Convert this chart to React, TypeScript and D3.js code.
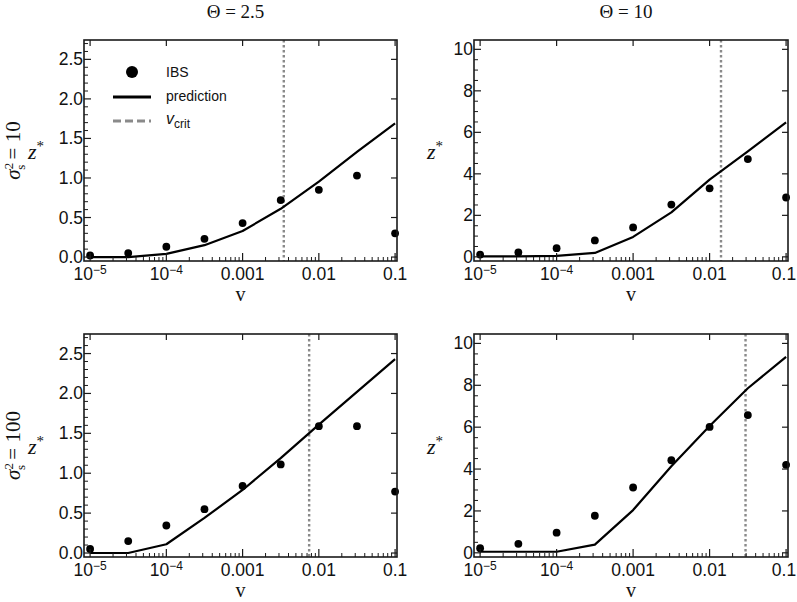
import React from 'react';
import * as d3 from 'd3';

// ---------- data ----------
const vGrid = [1e-5, 3.162e-5, 1e-4, 3.162e-4, 1e-3, 3.162e-3, 1e-2, 3.162e-2, 1e-1];

const ibsTheta25Sig10 = [0.02, 0.05, 0.13, 0.23, 0.43, 0.72, 0.85, 1.03, 0.3];
const predTheta25Sig10 = [0.0, 0.0, 0.04, 0.15, 0.33, 0.61, 0.955, 1.33, 1.69];
const ibsTheta10Sig10 = [0.11, 0.21, 0.42, 0.79, 1.42, 2.52, 3.3, 4.71, 2.86];
const predTheta10Sig10 = [0.02, 0.02, 0.05, 0.19, 0.96, 2.14, 3.72, 5.08, 6.48];
const ibsTheta25Sig100 = [0.05, 0.15, 0.345, 0.55, 0.84, 1.11, 1.59, 1.59, 0.77];
const predTheta25Sig100 = [0.0, 0.0, 0.11, 0.44, 0.79, 1.19, 1.61, 2.02, 2.43];
const ibsTheta10Sig100 = [0.22, 0.43, 0.96, 1.77, 3.12, 4.42, 6.01, 6.58, 4.2];
const predTheta10Sig100 = [0.05, 0.05, 0.05, 0.39, 2.04, 4.13, 6.06, 7.86, 9.36];

const vCritValues = [0.00347, 0.0141, 0.00746, 0.0295];

const columnTitles = ['2.5', '10'];
const rowSigma = ['10', '100'];

const xTickValues = [1e-5, 1e-4, 1e-3, 1e-2, 1e-1];
const xTickBase = ['10', '10', '0.001', '0.01', '0.1'];
const xTickExp = ['\u22125', '\u22124', '', '', ''];

const yTicksLeft = [0, 0.5, 1, 1.5, 2, 2.5];
const yTickLabelsLeft = ['0.0', '0.5', '1.0', '1.5', '2.0', '2.5'];
const yMinorLeft = 0.1;
const yTicksRight = [0, 2, 4, 6, 8, 10];
const yTickLabelsRight = ['0', '2', '4', '6', '8', '10'];
const yMinorRight = 0.5;

const legendLabels = ['IBS', 'prediction', 'crit'];

// ---------- layout ----------
const W = 797;
const H = 602;
const colX = [{ x0: 84, w: 313 }, { x0: 474, w: 314 }];
const rowY = [{ y0: 40, h: 221 }, { y0: 334, h: 223 }];
const SANS = "'Liberation Sans', Arial, Helvetica, sans-serif";
const SERIF = "'Liberation Serif', 'Times New Roman', serif";

type PanelDef = {
  col: number;
  row: number;
  ibs: number[];
  pred: number[];
  vcrit: number;
};

const panels: PanelDef[] = [
  { col: 0, row: 0, ibs: ibsTheta25Sig10, pred: predTheta25Sig10, vcrit: vCritValues[0] },
  { col: 1, row: 0, ibs: ibsTheta10Sig10, pred: predTheta10Sig10, vcrit: vCritValues[1] },
  { col: 0, row: 1, ibs: ibsTheta25Sig100, pred: predTheta25Sig100, vcrit: vCritValues[2] },
  { col: 1, row: 1, ibs: ibsTheta10Sig100, pred: predTheta10Sig100, vcrit: vCritValues[3] },
];

function Panel({ p }: { p: PanelDef }) {
  const { x0, w } = colX[p.col];
  const { y0, h } = rowY[p.row];
  const x = d3.scaleLog().domain([Math.pow(10, -5.08), Math.pow(10, -0.975)]).range([x0, x0 + w]);
  const isLeft = p.col === 0;
  const yDomain: [number, number] = isLeft ? [-0.05, 2.745] : [-0.2, 10.45];
  const y = d3.scaleLinear().domain(yDomain).range([y0 + h, y0]);
  const majors = isLeft ? yTicksLeft : yTicksRight;
  const majorLabels = isLeft ? yTickLabelsLeft : yTickLabelsRight;
  const minorStep = isLeft ? yMinorLeft : yMinorRight;
  const yMinors = d3.range(0, yDomain[1], minorStep).filter(
    (v) => !majors.some((m) => Math.abs(m - v) < 1e-6)
  );
  const xMinors: number[] = [];
  for (let e = -5; e <= -2; e++) {
    for (let k = 2; k <= 9; k++) xMinors.push(k * Math.pow(10, e));
  }
  const line = d3
    .line<number>()
    .x((_, i) => x(vGrid[i]))
    .y((d) => y(d));

  const bottom = y0 + h;
  const right = x0 + w;
  const cx = x0 + w / 2;
  const cy = y0 + h / 2;

  return (
    <g>
      {/* vcrit */}
      <line
        x1={x(p.vcrit)}
        x2={x(p.vcrit)}
        y1={y0}
        y2={bottom}
        stroke="#8a8a8a"
        strokeWidth={2.4}
        strokeDasharray="2.5,2.5"
      />
      {/* prediction */}
      <path d={line(p.pred) || ''} fill="none" stroke="#000" strokeWidth={2.2} strokeLinejoin="round" />
      {/* IBS */}
      {p.ibs.map((v, i) => (
        <circle key={i} cx={x(vGrid[i])} cy={y(v)} r={3.9} fill="#000" />
      ))}
      {/* frame */}
      <rect x={x0} y={y0} width={w} height={h} fill="none" stroke="#1a1a1a" strokeWidth={1.6} />
      {/* bottom major/minor ticks */}
      {xTickValues.map((v, i) => (
        <g key={'xt' + i}>
          <line x1={x(v)} x2={x(v)} y1={bottom} y2={bottom - 8} stroke="#1a1a1a" strokeWidth={1.2} />
          <line x1={x(v)} x2={x(v)} y1={y0} y2={y0 + 6} stroke="#1a1a1a" strokeWidth={1.2} />
          <text
            x={Math.min(x(v), W - 13)}
            y={bottom + 19}
            textAnchor="middle"
            fontFamily={SANS}
            fontSize={17.5}
            fill="#111"
          >
            {xTickBase[i]}
            {xTickExp[i] && (
              <tspan dy={-6} fontSize={12}>
                {xTickExp[i]}
              </tspan>
            )}
          </text>
        </g>
      ))}
      {xMinors.map((v, i) => (
        <line key={'xm' + i} x1={x(v)} x2={x(v)} y1={bottom} y2={bottom - 4} stroke="#1a1a1a" strokeWidth={1} />
      ))}
      {/* y ticks */}
      {majors.map((v, i) => (
        <g key={'yt' + i}>
          <line x1={x0} x2={x0 + 7} y1={y(v)} y2={y(v)} stroke="#1a1a1a" strokeWidth={1.2} />
          <line x1={right} x2={right - 6} y1={y(v)} y2={y(v)} stroke="#1a1a1a" strokeWidth={1.2} />
          <text
            x={x0 - 1}
            y={y(v) + 6}
            textAnchor="end"
            fontFamily={SANS}
            fontSize={17.5}
            fill="#111"
          >
            {majorLabels[i]}
          </text>
        </g>
      ))}
      {yMinors.map((v, i) => (
        <line key={'ym' + i} x1={x0} x2={x0 + 4} y1={y(v)} y2={y(v)} stroke="#1a1a1a" strokeWidth={1} />
      ))}
      {/* x label */}
      <text x={cx} y={bottom + 40} textAnchor="middle" fontFamily={SERIF} fontSize={20} fill="#111">
        v
      </text>
      {/* z* label */}
      <text
        x={isLeft ? 36 : 435}
        y={cy + 8}
        textAnchor="middle"
        fontFamily={SERIF}
        fontSize={22}
        fill="#111"
      >
        <tspan fontStyle="italic">z</tspan>
        <tspan dy={-8} fontSize={15}>
          *
        </tspan>
      </text>
      {/* sigma row label */}
      {isLeft && (
        <g transform={`translate(20,${cy}) rotate(-90)`}>
          <text textAnchor="middle" fontFamily={SERIF} fontSize={21} fill="#111">
            <tspan fontStyle="italic">σ</tspan>
            <tspan dy={-7} fontSize={13}>
              2
            </tspan>
            <tspan dx={-7} dy={12} fontSize={13}>
              s
            </tspan>
            <tspan dy={-5}>{' = ' + rowSigma[p.row]}</tspan>
          </text>
        </g>
      )}
      {/* column title */}
      {p.row === 0 && (
        <text x={cx - 5} y={18} textAnchor="middle" fontFamily={SERIF} fontSize={19} fill="#111">
          Θ = {columnTitles[p.col]}
        </text>
      )}
    </g>
  );
}

function Legend() {
  const lx = 113;
  const tx = 166;
  return (
    <g fontFamily={SANS} fontSize={14} fill="#111">
      <circle cx={132} cy={72} r={6} fill="#000" />
      <text x={tx} y={77}>
        {legendLabels[0]}
      </text>
      <line x1={lx} x2={151} y1={97} y2={97} stroke="#000" strokeWidth={3} />
      <text x={tx} y={101}>
        {legendLabels[1]}
      </text>
      <line x1={lx} x2={151} y1={121} y2={121} stroke="#8a8a8a" strokeWidth={3} strokeDasharray="8,4" />
      <text x={tx} y={124}>
        <tspan fontStyle="italic" fontSize={16}>
          v
        </tspan>
        <tspan dy={4} fontSize={12}>
          {legendLabels[2]}
        </tspan>
      </text>
    </g>
  );
}

export default function App() {
  return (
    <svg width={W} height={H} style={{ display: 'block', position: 'absolute', left: 0, top: 0 }}>
      <rect width={W} height={H} fill="#fff" />
      {panels.map((p, i) => (
        <Panel key={i} p={p} />
      ))}
      <Legend />
    </svg>
  );
}
